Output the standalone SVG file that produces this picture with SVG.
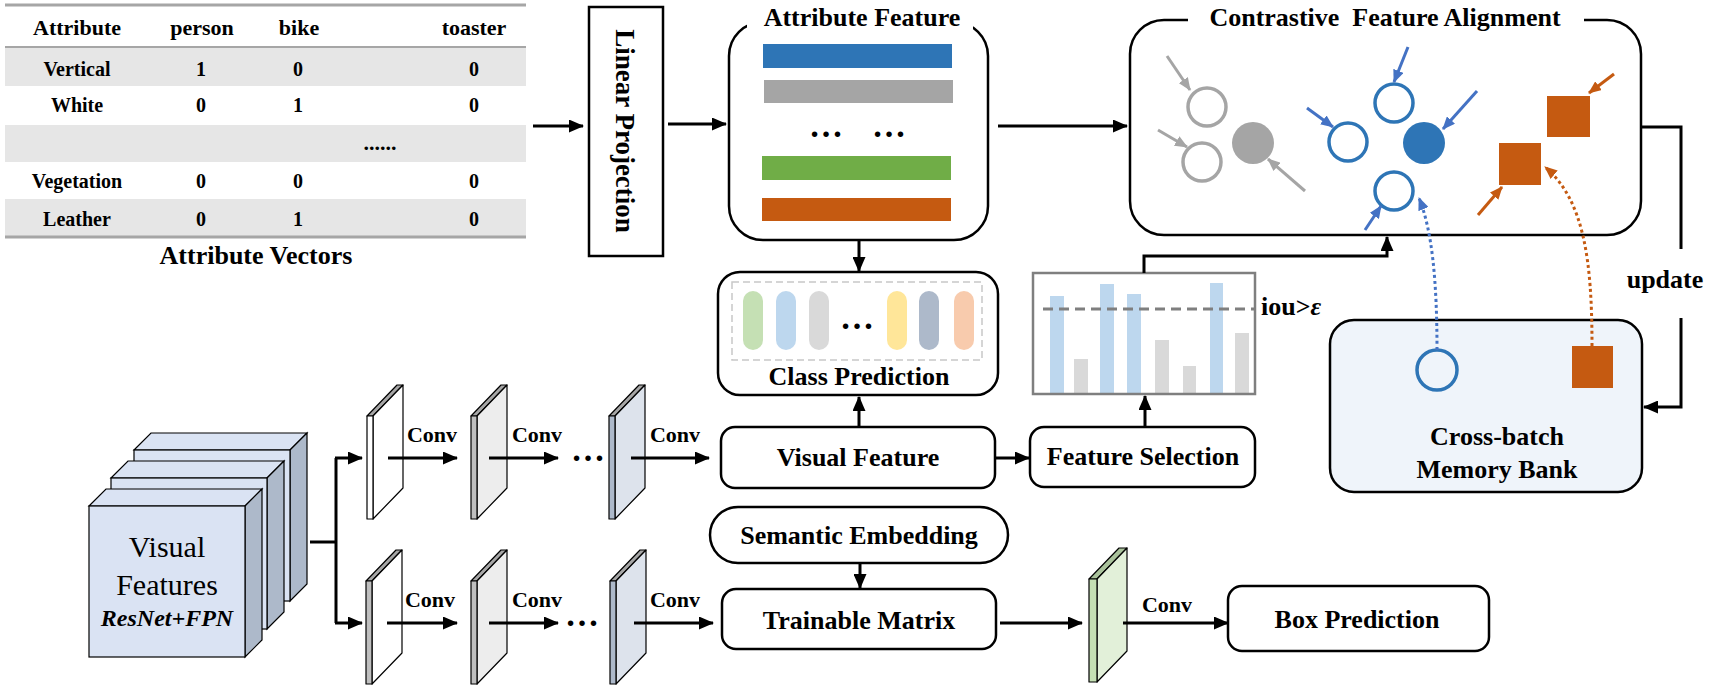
<svg xmlns="http://www.w3.org/2000/svg" width="1713" height="689" viewBox="0 0 1713 689">
<defs>
<style>
text { font-family: 'Liberation Serif','Times New Roman',serif; font-weight: bold; fill: #000; }
.hd { font-size: 22px; text-anchor: middle; }
.cell { font-size: 20px; text-anchor: middle; }
.lbl { font-size: 26px; text-anchor: middle; }
.conv { font-size: 22px; text-anchor: middle; }
.box { fill: #fff; stroke: #000; stroke-width: 2.5; }
.ln { fill: none; stroke: #000; stroke-width: 3; }
.arr { fill: none; stroke: #000; stroke-width: 3; marker-end: url(#ah); }
.band { fill: #E6E6E6; }
.rule { stroke: #A6A6A6; fill: none; }
.sl { stroke: #000; stroke-width: 1.2; stroke-linejoin: round; }
.top { fill: #A6A6A6; }
.ga { stroke: #A5A5A5; stroke-width: 3; fill: none; marker-end: url(#ahg); }
.ba { stroke: #4472C4; stroke-width: 3; fill: none; marker-end: url(#ahb); }
.oa { stroke: #C55A11; stroke-width: 3; fill: none; marker-end: url(#aho); }
.gc { fill: none; stroke: #A5A5A5; stroke-width: 3.5; }
.bc { fill: none; stroke: #2E75B6; stroke-width: 3.5; }
.pill { stroke: none; }
.cube-f { fill: #DAE3F3; stroke: #000; stroke-width: 1.2; }
.cube-s { fill: #ADB9CA; stroke: #000; stroke-width: 1.2; }
</style>
<marker id="ah" markerUnits="userSpaceOnUse" markerWidth="15" markerHeight="13" refX="14" refY="6.5" orient="auto"><path d="M0,0 L15,6.5 L0,13 z" fill="#000"/></marker>
<marker id="ahg" markerUnits="userSpaceOnUse" markerWidth="13" markerHeight="11" refX="12" refY="5.5" orient="auto"><path d="M0,0 L13,5.5 L0,11 z" fill="#A5A5A5"/></marker>
<marker id="ahb" markerUnits="userSpaceOnUse" markerWidth="13" markerHeight="11" refX="12" refY="5.5" orient="auto"><path d="M0,0 L13,5.5 L0,11 z" fill="#4472C4"/></marker>
<marker id="aho" markerUnits="userSpaceOnUse" markerWidth="13" markerHeight="11" refX="12" refY="5.5" orient="auto"><path d="M0,0 L13,5.5 L0,11 z" fill="#C55A11"/></marker>
</defs>

<rect width="1713" height="689" fill="#fff"/>

<!-- Attribute vectors table -->
<g id="attribute-vectors">
  <rect class="band" x="5" y="47" width="521" height="39"/>
  <rect class="band" x="5" y="125" width="521" height="37"/>
  <rect class="band" x="5" y="199" width="521" height="38"/>
  <line class="rule" x1="5" y1="5" x2="526" y2="5" stroke-width="3"/>
  <line class="rule" x1="5" y1="47" x2="526" y2="47" stroke-width="2"/>
  <line class="rule" x1="5" y1="237" x2="526" y2="237" stroke-width="3"/>
  <text class="hd" x="77" y="35">Attribute</text>
  <text class="hd" x="202" y="35">person</text>
  <text class="hd" x="299" y="35">bike</text>
  <text class="hd" x="474" y="35">toaster</text>
  <text class="cell" x="77" y="76">Vertical</text>
  <text class="cell" x="201" y="76">1</text>
  <text class="cell" x="298" y="76">0</text>
  <text class="cell" x="474" y="76">0</text>
  <text class="cell" x="77" y="112">White</text>
  <text class="cell" x="201" y="112">0</text>
  <text class="cell" x="298" y="112">1</text>
  <text class="cell" x="474" y="112">0</text>
  <text class="cell" x="380" y="150" style="font-size:22px">......</text>
  <text class="cell" x="77" y="188">Vegetation</text>
  <text class="cell" x="201" y="188">0</text>
  <text class="cell" x="298" y="188">0</text>
  <text class="cell" x="474" y="188">0</text>
  <text class="cell" x="77" y="226">Leather</text>
  <text class="cell" x="201" y="226">0</text>
  <text class="cell" x="298" y="226">1</text>
  <text class="cell" x="474" y="226">0</text>
  <text x="256" y="264" style="font-size:26px;text-anchor:middle">Attribute Vectors</text>
</g>

<!-- Linear projection -->
<g id="linear-projection">
  <rect x="589" y="7" width="74" height="249" fill="#fff" stroke="#000" stroke-width="2.5"/>
  <text transform="translate(616,131) rotate(90)" style="font-size:27px;text-anchor:middle">Linear Projection</text>
</g>

<!-- Attribute feature -->
<g id="attribute-feature">
  <rect class="box" x="729" y="22" width="259" height="218" rx="34"/>
  <rect x="747" y="6" width="226" height="24" fill="#fff"/>
  <text class="lbl" x="862" y="26">Attribute Feature</text>
  <rect x="763" y="44" width="189" height="24" fill="#2E75B6"/>
  <rect x="764" y="80" width="189" height="23" fill="#A5A5A5"/>
  <text x="826" y="137" style="font-size:34px;text-anchor:middle">…</text>
  <text x="889" y="137" style="font-size:34px;text-anchor:middle">…</text>
  <rect x="762" y="156" width="189" height="24" fill="#70AD47"/>
  <rect x="762" y="198" width="189" height="23" fill="#C55A11"/>
</g>

<!-- Contrastive feature alignment -->
<g id="contrastive-alignment">
  <rect class="box" x="1130" y="20" width="511" height="215" rx="34"/>
  <rect x="1188" y="4" width="396" height="28" fill="#fff"/>
  <text class="lbl" x="1385" y="26" xml:space="preserve">Contrastive  Feature Alignment</text>
  <circle class="gc" cx="1207" cy="107" r="19"/>
  <circle class="gc" cx="1202" cy="162" r="19"/>
  <circle cx="1253" cy="143" r="21" fill="#A5A5A5"/>
  <line class="ga" x1="1167" y1="56" x2="1190" y2="90"/>
  <line class="ga" x1="1158" y1="130" x2="1187" y2="147"/>
  <line class="ga" x1="1305" y1="191" x2="1268" y2="159"/>
  <circle class="bc" cx="1394" cy="103" r="19"/>
  <circle class="bc" cx="1348" cy="142" r="19"/>
  <circle class="bc" cx="1394" cy="191" r="19"/>
  <circle cx="1424" cy="143" r="21" fill="#2E75B6"/>
  <line class="ba" x1="1408" y1="47" x2="1394" y2="82"/>
  <line class="ba" x1="1307" y1="108" x2="1333" y2="127"/>
  <line class="ba" x1="1477" y1="91" x2="1443" y2="129"/>
  <line class="ba" x1="1365" y1="230" x2="1381" y2="206"/>
  <rect x="1547" y="96" width="43" height="41" fill="#C55A11"/>
  <rect x="1499" y="143" width="42" height="42" fill="#C55A11"/>
  <line class="oa" x1="1614" y1="74" x2="1589" y2="93"/>
  <line class="oa" x1="1478" y1="215" x2="1502" y2="187"/>
</g>

<!-- Cross-batch memory bank -->
<g id="memory-bank">
  <rect x="1330" y="320" width="312" height="172" rx="24" fill="#EFF4FA" stroke="#000" stroke-width="2.5"/>
  <circle class="bc" cx="1437" cy="370" r="20"/>
  <rect x="1572" y="346" width="41" height="42" fill="#C55A11"/>
  <text class="lbl" x="1497" y="445">Cross-batch</text>
  <text class="lbl" x="1497" y="478">Memory Bank</text>
</g>

<!-- Class prediction -->
<g id="class-prediction">
  <rect class="box" x="718" y="272" width="280" height="123" rx="22"/>
  <rect x="732" y="282" width="250" height="78" fill="none" stroke="#C8C8C8" stroke-width="1.5" stroke-dasharray="7,4"/>
  <rect class="pill" x="743" y="291" width="20" height="59" rx="10" fill="#C5E0B4"/>
  <rect class="pill" x="776" y="291" width="20" height="59" rx="10" fill="#BDD7EE"/>
  <rect class="pill" x="809" y="291" width="20" height="59" rx="10" fill="#D9D9D9"/>
  <text x="857" y="329" style="font-size:34px;text-anchor:middle">…</text>
  <rect class="pill" x="887" y="291" width="20" height="59" rx="10" fill="#FFE699"/>
  <rect class="pill" x="919" y="291" width="20" height="59" rx="10" fill="#ADB9CA"/>
  <rect class="pill" x="954" y="291" width="20" height="59" rx="10" fill="#F8CBAD"/>
  <text class="lbl" x="859" y="385">Class Prediction</text>
</g>

<!-- Visual feature -->
<g id="visual-feature">
  <rect class="box" x="721" y="427" width="274" height="61" rx="14"/>
  <text class="lbl" x="858" y="466">Visual Feature</text>
</g>

<!-- Feature selection -->
<g id="feature-selection">
  <rect class="box" x="1030" y="427" width="225" height="60" rx="14"/>
  <text class="lbl" x="1143" y="465">Feature Selection</text>
</g>

<!-- IoU chart -->
<g id="iou-chart">
  <rect x="1050" y="296" width="14" height="97" fill="#BDD7EE"/>
  <rect x="1074" y="359" width="14" height="34" fill="#D9D9D9"/>
  <rect x="1100" y="284" width="14" height="109" fill="#BDD7EE"/>
  <rect x="1127" y="294" width="14" height="99" fill="#BDD7EE"/>
  <rect x="1155" y="340" width="14" height="53" fill="#D9D9D9"/>
  <rect x="1183" y="366" width="13" height="27" fill="#D9D9D9"/>
  <rect x="1210" y="283" width="13" height="110" fill="#BDD7EE"/>
  <rect x="1235" y="333" width="14" height="60" fill="#D9D9D9"/>
  <line x1="1043" y1="309" x2="1255" y2="309" stroke="#7F7F7F" stroke-width="3" stroke-dasharray="10,6"/>
  <rect x="1033" y="273" width="222" height="121" fill="none" stroke="#7F7F7F" stroke-width="2.5"/>
  <text x="1261" y="315" style="font-size:26px">iou&gt;<tspan font-style="italic">ε</tspan></text>
</g>

<!-- Visual features stack -->
<g id="visual-features">
  <polygon class="cube-f" points="134,450 151,433 307,433 290,450"/>
  <polygon class="cube-s" points="290,450 307,433 307,584 290,601"/>
  <rect class="cube-f" x="134" y="450" width="156" height="151"/>
  <polygon class="cube-f" points="111,478 128,461 284,461 267,478"/>
  <polygon class="cube-s" points="267,478 284,461 284,612 267,629"/>
  <rect class="cube-f" x="111" y="478" width="156" height="151"/>
  <polygon class="cube-f" points="89,506 106,489 262,489 245,506"/>
  <polygon class="cube-s" points="245,506 262,489 262,640 245,657"/>
  <rect class="cube-f" x="89" y="506" width="156" height="151"/>
  <text x="167" y="557" style="font-size:30px;font-weight:normal;text-anchor:middle">Visual</text>
  <text x="167" y="595" style="font-size:30px;font-weight:normal;text-anchor:middle">Features</text>
  <text x="167" y="626" style="font-size:24px;font-style:italic;text-anchor:middle">ResNet+FPN</text>
</g>

<!-- Conv feature maps, classification branch -->
<g id="conv-maps-top">
  <polygon class="sl top" points="367,416 397,385 403,385 373,416"/>
  <polygon class="sl" fill="#FFFFFF" points="373,416 403,385 403,488 373,519"/>
  <rect class="sl" fill="#FFFFFF" x="367" y="416" width="6" height="103"/>
  <polygon class="sl top" points="471,416 501,385 507,385 477,416"/>
  <polygon class="sl" fill="#EDEDED" points="477,416 507,385 507,488 477,519"/>
  <rect class="sl" fill="#BFBFBF" x="471" y="416" width="6" height="103"/>
  <polygon class="sl top" points="609,416 639,385 645,385 615,416"/>
  <polygon class="sl" fill="#DDE3EC" points="615,416 645,385 645,488 615,519"/>
  <rect class="sl" fill="#ADB9CA" x="609" y="416" width="6" height="103"/>
  <text class="conv" x="432" y="442">Conv</text>
  <text class="conv" x="537" y="442">Conv</text>
  <text class="conv" x="675" y="442">Conv</text>
  <text x="588" y="461" style="font-size:34px;text-anchor:middle">…</text>
</g>

<!-- Conv feature maps, box branch -->
<g id="conv-maps-bottom">
  <polygon class="sl top" points="366,581 396,550 402,550 372,581"/>
  <polygon class="sl" fill="#FFFFFF" points="372,581 402,550 402,653 372,684"/>
  <rect class="sl" fill="#BFBFBF" x="366" y="581" width="6" height="103"/>
  <polygon class="sl top" points="471,581 501,550 507,550 477,581"/>
  <polygon class="sl" fill="#EDEDED" points="477,581 507,550 507,653 477,684"/>
  <rect class="sl" fill="#BFBFBF" x="471" y="581" width="6" height="103"/>
  <polygon class="sl top" points="610,581 640,550 646,550 616,581"/>
  <polygon class="sl" fill="#DDE3EC" points="616,581 646,550 646,653 616,684"/>
  <rect class="sl" fill="#ADB9CA" x="610" y="581" width="6" height="103"/>
  <text class="conv" x="430" y="607">Conv</text>
  <text class="conv" x="537" y="607">Conv</text>
  <text class="conv" x="675" y="607">Conv</text>
  <text x="582" y="626" style="font-size:34px;text-anchor:middle">…</text>
</g>

<!-- Semantic embedding -->
<g id="semantic-embedding">
  <rect class="box" x="710" y="507" width="298" height="56" rx="28"/>
  <text class="lbl" x="859" y="544">Semantic Embedding</text>
</g>

<!-- Trainable matrix -->
<g id="trainable-matrix">
  <rect class="box" x="722" y="589" width="274" height="60" rx="14"/>
  <text class="lbl" x="859" y="629">Trainable Matrix</text>
</g>

<!-- Box feature map -->
<g id="box-feature-map">
  <polygon class="sl" fill="#A9C29B" points="1089,579 1119,548 1127,548 1097,579"/>
  <polygon class="sl" fill="#E2F0D9" points="1097,579 1127,548 1127,651 1097,682"/>
  <rect class="sl" fill="#C5E0B4" x="1089" y="579" width="8" height="103"/>
</g>

<!-- Box prediction -->
<g id="box-prediction">
  <rect class="box" x="1228" y="586" width="261" height="65" rx="14"/>
  <text class="lbl" x="1357" y="628">Box Prediction</text>
</g>

<!-- Connectors -->
<g id="connectors">
  <path class="arr" d="M533,126 H583"/>
  <path class="arr" d="M668,124 H726"/>
  <path class="arr" d="M998,126 H1127"/>
  <path class="arr" d="M859,240 V271"/>
  <path class="arr" d="M859,427 V397"/>
  <path class="arr" d="M995,458 H1029"/>
  <path class="arr" d="M1145,427 V396"/>
  <path class="arr" d="M1144,273 V256 H1387 V237"/>
  <path class="ln" d="M1641,127 H1681 V249"/>
  <path class="arr" d="M1681,318 V407 H1644"/>
  <text class="lbl" x="1665" y="288">update</text>
  <path class="ln" d="M310,542 H336"/>
  <path class="ln" d="M336,458 V623"/>
  <path class="arr" d="M335,458 H362"/>
  <path class="arr" d="M335,623 H362"/>
  <path class="arr" d="M388,458 H457"/>
  <path class="arr" d="M489,458 H558"/>
  <path class="arr" d="M631,458 H709"/>
  <path class="arr" d="M387,623 H457"/>
  <path class="arr" d="M489,623 H558"/>
  <path class="arr" d="M634,623 H713"/>
  <path class="arr" d="M860,563 V588"/>
  <path class="arr" d="M1000,623 H1082"/>
  <path class="arr" d="M1123,623 H1228"/>
  <text class="conv" x="1167" y="612">Conv</text>
  <path d="M1437,350 C1437,280 1432,230 1419,198" fill="none" stroke="#4472C4" stroke-width="3" stroke-dasharray="3,3" marker-end="url(#ahb)"/>
  <path d="M1592,346 C1592,260 1584,200 1545,167" fill="none" stroke="#C55A11" stroke-width="3" stroke-dasharray="3,3" marker-end="url(#aho)"/>
</g>
</svg>
